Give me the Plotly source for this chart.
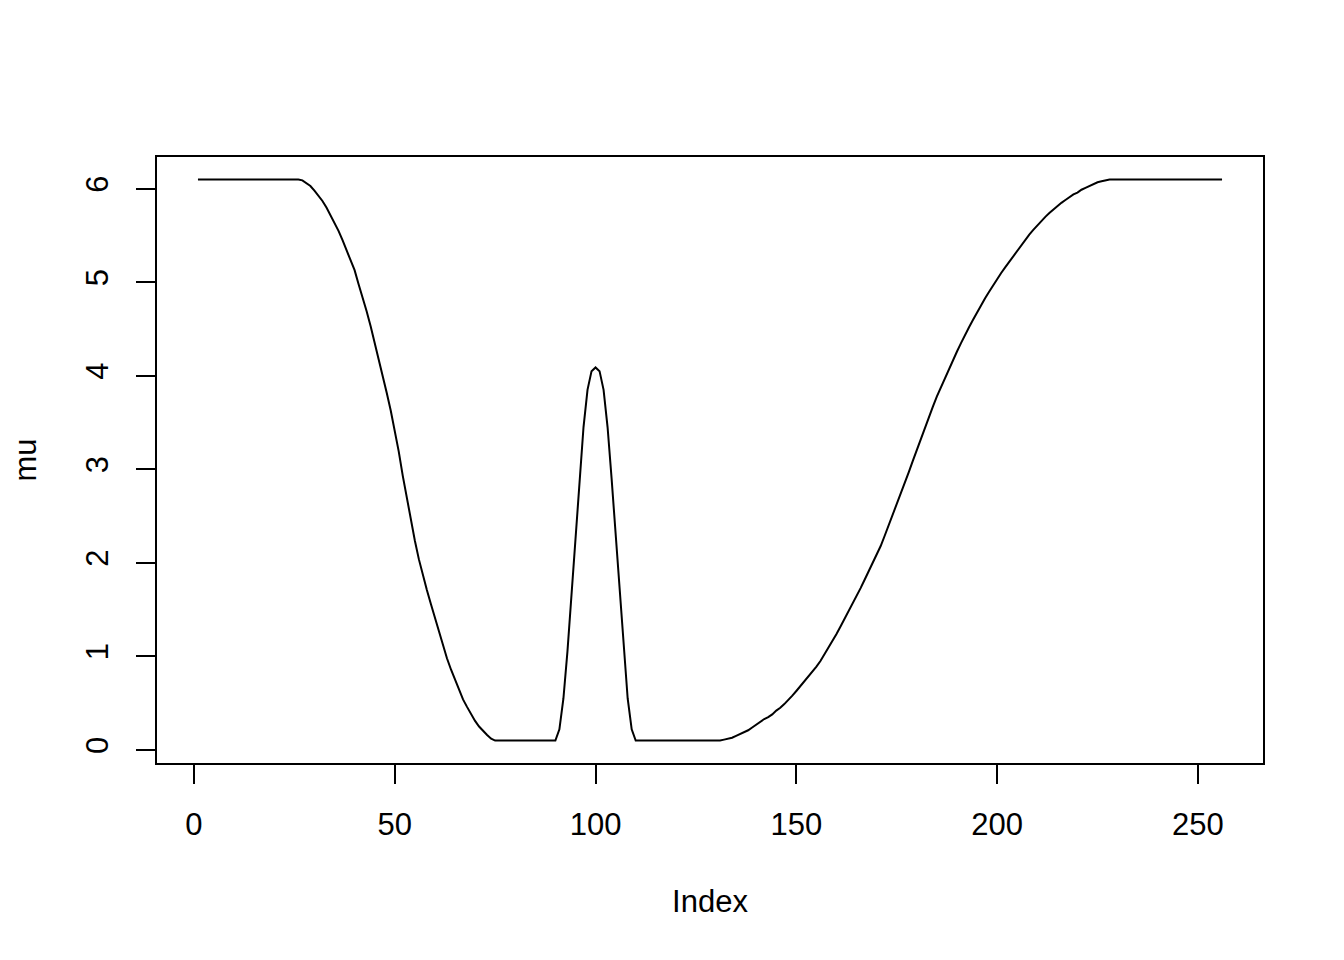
import plotly.graph_objects as go

# Values (index 1..256)
mu_start_flat = [6.1, 6.1, 6.1, 6.1, 6.1, 6.1, 6.1, 6.1, 6.1, 6.1, 6.1, 6.1, 6.1,
                 6.1, 6.1, 6.1, 6.1, 6.1, 6.1, 6.1, 6.1, 6.1, 6.1, 6.1, 6.1, 6.1]
mu_descent = [6.09, 6.06, 6.03, 5.98, 5.93, 5.87, 5.80, 5.72, 5.64, 5.55, 5.45, 5.35,
              5.24, 5.13, 4.98, 4.84, 4.69, 4.53, 4.36, 4.19, 4.01, 3.82, 3.63, 3.42,
              3.19, 2.93, 2.69, 2.45, 2.24, 2.04, 1.86, 1.71, 1.56, 1.41, 1.26, 1.12,
              0.98, 0.86, 0.75, 0.64, 0.54, 0.46, 0.38, 0.31, 0.25, 0.20, 0.16, 0.12,
              0.10]
mu_low1 = [0.1, 0.1, 0.1, 0.1, 0.1, 0.1, 0.1, 0.1, 0.1, 0.1, 0.1, 0.1, 0.1, 0.1, 0.1]
mu_peak = [0.22, 0.55, 1.05, 1.65, 2.3, 2.9, 3.45, 3.85, 4.05, 4.09, 4.05, 3.85, 3.45,
           2.9, 2.3, 1.65, 1.05, 0.55, 0.22]
mu_low2 = [0.1, 0.1, 0.1, 0.1, 0.1, 0.1, 0.1, 0.1, 0.1, 0.1, 0.1, 0.1, 0.1, 0.1, 0.1,
           0.1, 0.1, 0.1, 0.1, 0.1, 0.1, 0.1]
mu_ascent = [0.11, 0.12, 0.13, 0.15, 0.17, 0.19, 0.21, 0.24, 0.27, 0.30, 0.33, 0.35,
             0.38, 0.42, 0.45, 0.49, 0.53, 0.58, 0.63, 0.68, 0.73, 0.78, 0.84, 0.89,
             0.95, 1.02, 1.09, 1.17, 1.24, 1.32, 1.40, 1.48, 1.56, 1.64, 1.73, 1.82,
             1.91, 2.00, 2.09, 2.18, 2.29, 2.40, 2.51, 2.62, 2.73, 2.85, 2.97, 3.09,
             3.21, 3.33, 3.45, 3.56, 3.67, 3.78, 3.88, 3.98, 4.08, 4.17, 4.26, 4.35,
             4.44, 4.52, 4.60, 4.68, 4.76, 4.83, 4.90, 4.97, 5.04, 5.10, 5.16, 5.22,
             5.28, 5.34, 5.40, 5.46, 5.51, 5.56, 5.61, 5.65, 5.70, 5.74, 5.78, 5.81,
             5.85, 5.88, 5.91, 5.94, 5.96, 5.99, 6.01, 6.03, 6.05, 6.07, 6.08, 6.09]
mu_end_flat = [6.1, 6.1, 6.1, 6.1, 6.1, 6.1, 6.1, 6.1, 6.1, 6.1, 6.1, 6.1, 6.1, 6.1,
               6.1, 6.1, 6.1, 6.1, 6.1, 6.1, 6.1, 6.1, 6.1, 6.1, 6.1, 6.1, 6.1, 6.1,
               6.1]

mu = mu_start_flat + mu_descent + mu_low1 + mu_peak + mu_low2 + mu_ascent + mu_end_flat
index = list(range(1, len(mu) + 1))

x_ticks = [0, 50, 100, 150, 200, 250]
y_ticks = [0, 1, 2, 3, 4, 5, 6]

FONT = "Liberation Sans, Arial, sans-serif"

fig = go.Figure()
fig.add_trace(go.Scatter(x=index, y=mu, mode="lines",
                         line=dict(color="black", width=2), showlegend=False,
                         hoverinfo="skip"))

fig.update_layout(
    width=1344, height=960,
    margin=dict(l=149, r=89, t=149, b=205),
    paper_bgcolor="white", plot_bgcolor="white",
    font=dict(family=FONT, size=31, color="black"),
    showlegend=False,
)
fig.update_xaxes(
    range=[-9.2, 266.2], tickvals=x_ticks, ticktext=[str(v) for v in x_ticks],
    ticks="outside", ticklen=19, tickwidth=2, tickcolor="black",
    showline=True, linecolor="black", linewidth=2, mirror=True,
    showgrid=False, zeroline=False, ticklabelstandoff=14,
    tickfont=dict(family=FONT, size=31, color="black"),
    title=dict(text="Index", font=dict(family=FONT, size=31, color="black"), standoff=49),
)
fig.update_yaxes(
    range=[-0.14, 6.34], tickvals=y_ticks, ticktext=[str(v) for v in y_ticks],
    ticks="outside", ticklen=19, tickwidth=2, tickcolor="black",
    showline=True, linecolor="black", linewidth=2, mirror=True,
    showgrid=False, zeroline=False, tickangle=-90, ticklabelstandoff=16,
    tickfont=dict(family=FONT, size=31, color="black"),
    title=dict(text="mu", font=dict(family=FONT, size=31, color="black"), standoff=35),
)

fig.write_html("out.html")
